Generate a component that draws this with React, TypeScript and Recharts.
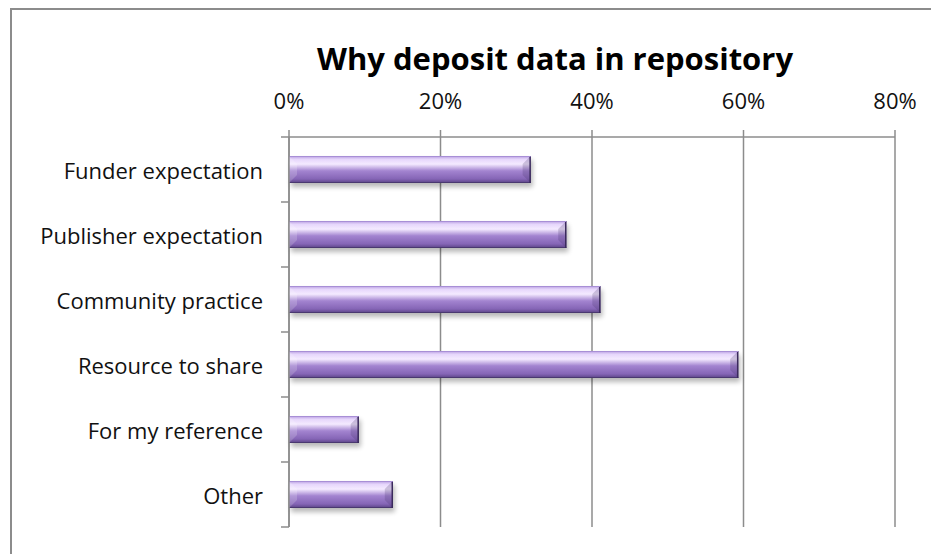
import React from 'react';
import { BarChart, Bar, XAxis, YAxis, CartesianGrid } from 'recharts';

const categories = [
  'Funder expectation',
  'Publisher expectation',
  'Community practice',
  'Resource to share',
  'For my reference',
  'Other',
];
const shares = [0.319, 0.366, 0.411, 0.593, 0.092, 0.137];
const percentTicks = [0, 0.2, 0.4, 0.6, 0.8];

const data = categories.map((name, i) => ({ name, value: shares[i] }));

const FONT = '"Open Sans", "Noto Sans", sans-serif';
const GRID = '#8c8c8c';
const labelGap = 26;

const pct = (v: number) => `${Math.round(v * 100)}%`;

// category label + tick marks between categories
const CategoryTick = (props: any) => {
  const { x, y, payload, index } = props;
  const ax = x + labelGap;
  const off = payload.offset || 0;
  return (
    <g>
      <line x1={ax - 8} x2={ax} y1={y - off} y2={y - off} stroke={GRID} strokeWidth={1.5} />
      {index === categories.length - 1 && (
        <line x1={ax - 8} x2={ax} y1={y + off} y2={y + off} stroke={GRID} strokeWidth={1.5} />
      )}
      <text x={x} y={y} textAnchor="end" dominantBaseline="central" fontSize={22} fill="#111" fontFamily={FONT}>
        {payload.value}
      </text>
    </g>
  );
};

const BevelBar = (props: any) => {
  const { x, y, width, height, index } = props;
  if (!width || width <= 0) return null;
  const b = Math.min(8, width / 2, height / 2);
  const gid = `barGrad${index}`;
  const fid = `barShadow${index}`;
  return (
    <g>
      <defs>
        <linearGradient id={gid} x1="0" y1="0" x2="0" y2="1">
          <stop offset="0" stopColor="#b69be0" />
          <stop offset="0.12" stopColor="#e6d6fb" />
          <stop offset="0.3" stopColor="#f4eaff" />
          <stop offset="0.55" stopColor="#a384d0" />
          <stop offset="0.85" stopColor="#8565b6" />
          <stop offset="1" stopColor="#5a4384" />
        </linearGradient>
        <filter id={fid} x="-10%" y="-30%" width="120%" height="180%">
          <feGaussianBlur stdDeviation="2.5" />
        </filter>
      </defs>
      <rect x={x + 2} y={y + 4} width={width} height={height} fill="#000" opacity={0.28} filter={`url(#${fid})`} />
      <rect x={x} y={y} width={width} height={height} fill={`url(#${gid})`} />
      <polygon
        points={`${x},${y} ${x + b},${y + b} ${x + b},${y + height - b} ${x},${y + height}`}
        fill="#ffffff"
        opacity={0.18}
      />
      <polygon
        points={`${x + width},${y} ${x + width - b},${y + b} ${x + width - b},${y + height - b} ${x + width},${y + height}`}
        fill="#3e2d63"
        opacity={0.22}
      />
      <line x1={x} x2={x + width} y1={y + height - 0.5} y2={y + height - 0.5} stroke="#4a3870" strokeWidth={1} />
      <line x1={x + width - 0.5} x2={x + width - 0.5} y1={y} y2={y + height} stroke="#3a2a5c" strokeWidth={1.5} />
      <line x1={x} x2={x + width} y1={y + 0.5} y2={y + 0.5} stroke="#a88fd6" strokeWidth={1} />
    </g>
  );
};

const App: React.FC = () => {
  return (
    <div style={{ position: 'absolute', left: 0, top: 0, width: 931, height: 554, overflow: 'hidden', background: '#fff' }}>
      <div
        style={{
          position: 'absolute',
          left: 10,
          top: 8,
          width: 921,
          height: 546,
          borderLeft: `2px solid ${GRID}`,
          borderTop: `2px solid ${GRID}`,
          boxSizing: 'border-box',
        }}
      />
      <div
        style={{
          position: 'absolute',
          left: 0,
          width: 1110,
          top: 37,
          textAlign: 'center',
          fontFamily: FONT,
          fontWeight: 700,
          fontSize: 31,
          lineHeight: '42px',
          color: '#000',
        }}
      >
        Why deposit data in repository
      </div>
      <div style={{ position: 'absolute', left: 0, top: 0 }}>
        <BarChart
          width={931}
          height={554}
          data={data}
          layout="vertical"
          margin={{ top: 107, right: 36, bottom: 27, left: 9 }}
          barSize={27}
        >
          <CartesianGrid horizontal={false} stroke={GRID} strokeWidth={1.5} />
          <XAxis
            type="number"
            orientation="top"
            domain={[0, 0.8]}
            ticks={percentTicks}
            tickFormatter={pct}
            height={30}
            tickSize={7}
            tickMargin={21}
            axisLine={{ stroke: GRID, strokeWidth: 1.5 }}
            tickLine={{ stroke: GRID, strokeWidth: 1.5 }}
            tick={{ fontSize: 22, fill: '#111', fontFamily: FONT }}
          />
          <YAxis
            type="category"
            dataKey="name"
            width={280}
            tickSize={0}
            tickMargin={labelGap}
            tickLine={false}
            axisLine={{ stroke: GRID, strokeWidth: 1.5 }}
            tick={<CategoryTick />}
            interval={0}
          />
          <Bar dataKey="value" shape={<BevelBar />} isAnimationActive={false} />
        </BarChart>
      </div>
    </div>
  );
};

export default App;
